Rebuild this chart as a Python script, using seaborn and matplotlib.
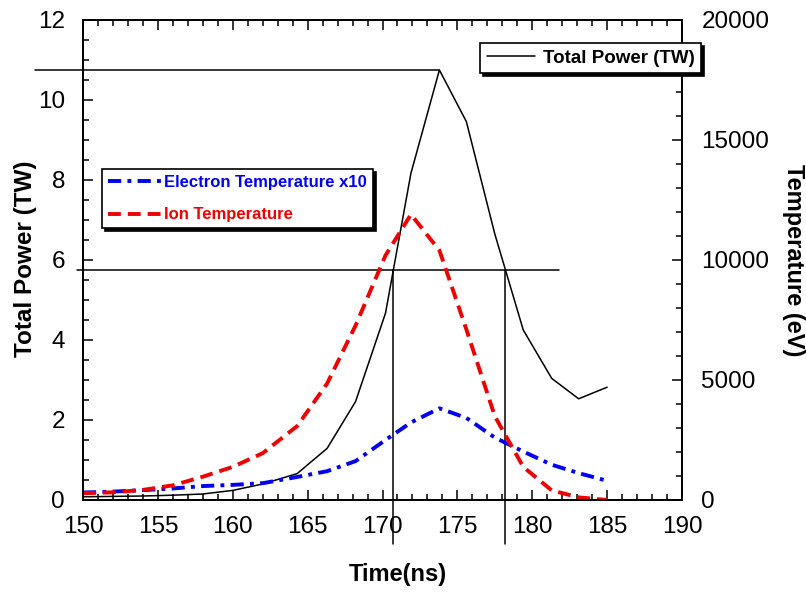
import matplotlib
matplotlib.use("Agg")
import matplotlib.pyplot as plt
from matplotlib.ticker import MultipleLocator
import pandas as pd
import seaborn as sns

# ---------------- data ----------------
time_ns = [150.0, 152.0, 154.0, 156.0, 158.0, 160.0, 162.0, 164.3, 166.3, 168.2,
           170.2, 171.9, 173.8, 175.6, 177.5, 179.4, 181.3, 183.1, 185.0]
total_power_tw = [0.08, 0.09, 0.10, 0.12, 0.15, 0.24, 0.40, 0.66, 1.29, 2.46,
                  4.67, 8.17, 10.75, 9.46, 6.65, 4.25, 3.04, 2.53, 2.82]
electron_temp_x10_ev = [310, 350, 410, 480, 580, 630, 700, 960, 1200, 1620,
                        2500, 3230, 3820, 3420, 2600, 2020, 1470, 1120, 800]
ion_temp_ev = [280, 320, 420, 610, 970, 1380, 1950, 3080, 4850, 7270,
               10190, 11900, 10400, 7110, 3490, 1380, 400, 110, 0]

series_labels = ["Total Power (TW)", "Electron Temperature x10", "Ion Temperature"]

# FWHM construction lines (data units)
peak_time = 173.8
peak_power = 10.75
half_power = 5.75
fwhm_t1 = 170.7
fwhm_t2 = 178.2
peak_line_start = 146.8
half_line_start = 149.6
half_line_end = 181.8
vline_bottom = -1.1

# ---------------- style ----------------
sns.set_style("ticks")
plt.rcParams["font.family"] = ["Liberation Sans", "DejaVu Sans"]
plt.rcParams.update({
    "axes.edgecolor": "black",
    "axes.labelcolor": "black",
    "xtick.color": "black",
    "ytick.color": "black",
    "text.color": "black",
    "axes.linewidth": 1.3,
})

df = pd.DataFrame({
    "time": time_ns,
    "power": total_power_tw,
    "te": electron_temp_x10_ev,
    "ti": ion_temp_ev,
})

fig = plt.figure(figsize=(8.06, 5.92), dpi=100)
ax = fig.add_axes([83 / 806, 92 / 592, 599 / 806, 480 / 592])
ax2 = ax.twinx()

sns.lineplot(data=df, x="time", y="power", ax=ax, color="black",
             linewidth=1.1, legend=False)
line_p = ax.lines[-1]

sns.lineplot(data=df, x="time", y="te", ax=ax2, color="#0000ee",
             linewidth=2.8, legend=False)
line_e = ax2.lines[-1]
line_e.set_dashes([3.4, 1.6, 1.0, 1.6])

sns.lineplot(data=df, x="time", y="ti", ax=ax2, color="#ee0000",
             linewidth=2.8, legend=False)
line_i = ax2.lines[-1]
line_i.set_dashes([3.3, 1.8])

# construction lines
lk = dict(color="black", linewidth=1.1, clip_on=False)
ax.plot([peak_line_start, peak_time], [peak_power, peak_power], **lk)
ax.plot([half_line_start, half_line_end], [half_power, half_power], **lk)
ax.plot([fwhm_t1, fwhm_t1], [half_power, vline_bottom], **lk)
ax.plot([fwhm_t2, fwhm_t2], [half_power, vline_bottom], **lk)

# limits / ticks
ax.set_xlim(150, 190)
ax.set_ylim(0, 12)
ax2.set_ylim(0, 20000)
ax.xaxis.set_major_locator(MultipleLocator(5))
ax.xaxis.set_minor_locator(MultipleLocator(1))
ax.yaxis.set_major_locator(MultipleLocator(2))
ax.yaxis.set_minor_locator(MultipleLocator(0.5))
ax2.yaxis.set_major_locator(MultipleLocator(5000))
ax2.yaxis.set_minor_locator(MultipleLocator(1000))

ax.tick_params(axis="both", which="both", direction="in", top=True,
               right=False, width=1.1, labelsize=17.5)
ax.tick_params(which="major", length=7)
ax.tick_params(which="minor", length=4)
ax.tick_params(axis="x", pad=11.5)
ax.tick_params(axis="y", pad=13)
ax2.tick_params(axis="y", which="both", direction="in", right=True,
                left=False, width=1.1, labelsize=17.5, pad=14)
ax2.tick_params(which="major", length=7)
ax2.tick_params(which="minor", length=4)

# labels
ax.set_xlabel("Time(ns)", fontsize=17, fontweight="bold")
ax.xaxis.set_label_coords(0.526, -0.131)
ax.set_ylabel("Total Power (TW)", fontsize=17.5, fontweight="bold")
ax.yaxis.set_label_coords(-0.0768, 0.502)
ax2.set_ylabel("Temperature (eV)", fontsize=17, fontweight="bold",
               rotation=270, va="bottom")
ax2.yaxis.set_label_coords(1.167, 0.5)

shadow = {"facecolor": "black", "edgecolor": "black", "alpha": 1}

leg1 = fig.legend([line_p], [series_labels[0]], loc="upper left",
                  bbox_to_anchor=(480 / 806, 1 - 43 / 592),
                  bbox_transform=fig.transFigure, borderaxespad=0,
                  fancybox=False, shadow=shadow, framealpha=1,
                  edgecolor="black", prop={"size": 13.5, "weight": "bold"},
                  handlelength=2.6, handletextpad=0.4, borderpad=0.35)
leg1.get_frame().set_linewidth(1.2)

leg2 = fig.legend([line_e, line_i], series_labels[1:], loc="upper left",
                  bbox_to_anchor=(102 / 806, 1 - 169 / 592),
                  bbox_transform=fig.transFigure, borderaxespad=0,
                  fancybox=False, shadow=shadow, framealpha=1,
                  edgecolor="black", prop={"size": 12, "weight": "bold"},
                  labelcolor="linecolor", handlelength=3.2,
                  handletextpad=0.2, labelspacing=1.05, borderpad=0.35)
leg2.get_frame().set_linewidth(1.2)

fig.savefig("out.png", dpi=100)
